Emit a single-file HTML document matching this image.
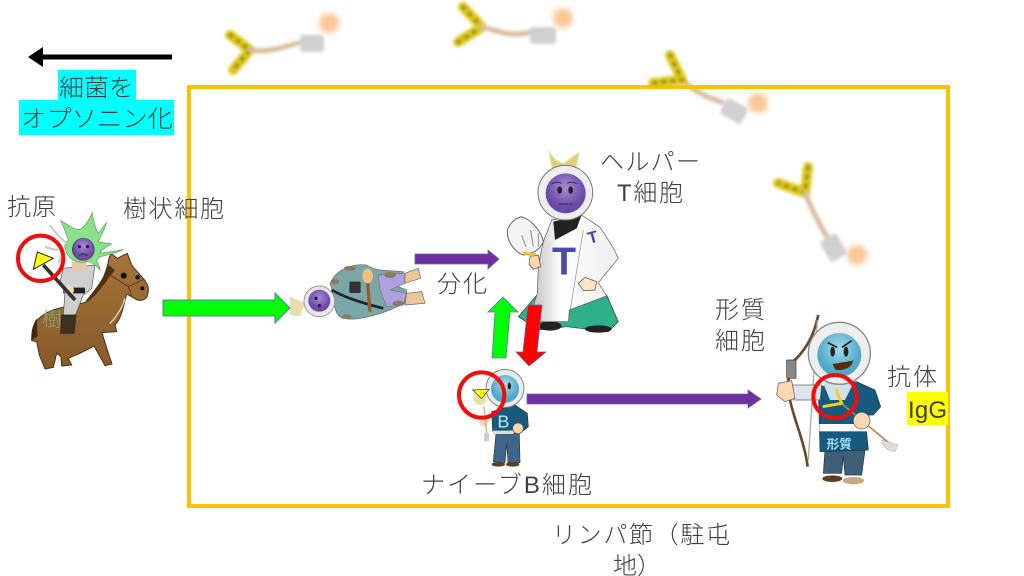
<!DOCTYPE html>
<html lang="ja"><head><meta charset="utf-8">
<style>
html,body{margin:0;padding:0;background:#fff;width:1024px;height:576px;overflow:hidden}
svg{display:block}
text{font-family:"Liberation Sans","Noto Sans CJK JP",sans-serif;font-size:24px;fill:#404040;font-weight:300}
</style></head><body>
<svg width="1024" height="576" viewBox="0 0 1024 576" xmlns="http://www.w3.org/2000/svg">
<defs>
<filter id="b" x="-20%" y="-20%" width="140%" height="140%"><feGaussianBlur stdDeviation="1.6"/></filter>
<filter id="b2" x="-40%" y="-40%" width="180%" height="180%"><feGaussianBlur stdDeviation="2"/></filter>
<filter id="s" x="-10%" y="-10%" width="120%" height="120%"><feGaussianBlur stdDeviation="0.7"/></filter>
<linearGradient id="coat" x1="0" x2="1"><stop offset="0" stop-color="#bdbdbd"/><stop offset=".35" stop-color="#fff"/><stop offset="1" stop-color="#eee"/></linearGradient>
<radialGradient id="pf" cx=".5" cy=".35"><stop offset="0" stop-color="#a98ad8"/><stop offset="1" stop-color="#6a48a8"/></radialGradient>
<radialGradient id="bf" cx=".5" cy=".35"><stop offset="0" stop-color="#a8dcec"/><stop offset="1" stop-color="#4fa8c8"/></radialGradient>
<linearGradient id="hb" x1="0" x2="0" y1="0" y2="1"><stop offset="0" stop-color="#a5743a"/><stop offset="1" stop-color="#86592a"/></linearGradient>
</defs>
<rect width="1024" height="576" fill="#fff"/>

<!-- antibodies -->
<g filter="url(#b)" fill="none" stroke-linecap="round" stroke-linejoin="round">
<g><path d="M230 35L250 50L233 70" stroke="#dcc81c" stroke-width="10"/><path d="M230 35L250 50L233 70" stroke="#7a6a10" stroke-width="3" stroke-dasharray="2 7"/><path d="M250 50C265 52 275 50 298 43" stroke="#d8bc9c" stroke-width="5"/><rect x="300" y="35" width="24" height="17" rx="3" fill="#d0d0d0" stroke="none"/><circle cx="329" cy="23" r="10" fill="#fcc898" stroke="none" filter="url(#b2)"/></g>
<g><path d="M463 7L482 27L458 42" stroke="#dcc81c" stroke-width="10"/><path d="M463 7L482 27L458 42" stroke="#7a6a10" stroke-width="3" stroke-dasharray="2 7"/><path d="M482 27C495 30 512 38 530 32" stroke="#d8bc9c" stroke-width="5"/><rect x="530" y="27" width="26" height="17" rx="3" fill="#d0d0d0" stroke="none"/><circle cx="563" cy="18" r="10" fill="#fcc898" stroke="none" filter="url(#b2)"/></g>
<g><path d="M808 167L805 193L778 183" stroke="#dcc81c" stroke-width="10"/><path d="M808 167L805 193L778 183" stroke="#7a6a10" stroke-width="3" stroke-dasharray="2 7"/><path d="M805 193C812 210 818 222 827 237" stroke="#d8bc9c" stroke-width="5"/><rect x="824" y="236" width="19" height="24" rx="3" fill="#d0d0d0" stroke="none" transform="rotate(-30 833 248)"/><circle cx="857" cy="255" r="10" fill="#fcc898" stroke="none" filter="url(#b2)"/></g>
<g><path d="M682 80C695 92 708 98 722 102" stroke="#d8bc9c" stroke-width="5"/><rect x="722" y="102" width="24" height="18" rx="3" fill="#d0d0d0" stroke="none" transform="rotate(30 734 111)"/><circle cx="758" cy="103" r="10" fill="#fcc898" stroke="none" filter="url(#b2)"/></g>
</g>

<!-- lymph node box -->
<rect x="189" y="87" width="759" height="419" fill="none" stroke="#ffc000" stroke-width="4"/>

<g filter="url(#b)" fill="none" stroke-linecap="round" stroke-linejoin="round">
<path d="M670 55L682 80L653 83" stroke="#dcc81c" stroke-width="10"/><path d="M670 55L682 80L653 83" stroke="#7a6a10" stroke-width="3" stroke-dasharray="2 7"/>
</g>

<!-- black arrow -->
<rect x="42" y="54.500" width="130" height="5" fill="#000"/>
<path d="M28 57L43 47V67Z" fill="#000"/>

<!-- cyan label -->
<rect x="58" y="70" width="78" height="31" fill="#00ffff"/>
<rect x="19" y="100" width="155" height="35" fill="#00ffff"/>
<text x="59" y="96" textLength="75" lengthAdjust="spacingAndGlyphs">細菌を</text>
<text x="21" y="127" textLength="152" lengthAdjust="spacingAndGlyphs">オプソニン化</text>

<!-- rider -->
<g transform="translate(0,190) scale(.33333)" filter="url(#s)">
 <path d="M112 390C150 348 220 350 262 335C295 305 320 250 328 200L335 192L352 205L382 190L395 225C420 258 447 275 445 302C445 328 425 338 405 326L380 312C372 342 365 385 345 405L350 425L306 428L325 490L336 522L315 527L282 468L240 490L205 505L215 525L185 528L183 500L170 490L160 532L135 537L118 495L110 455L95 452C95 430 100 405 112 390Z" fill="url(#hb)" stroke="#4a3216" stroke-width="3" stroke-linejoin="round"/>
 <path d="M255 335C285 300 315 260 325 225L345 240C320 270 300 305 270 330Z" fill="#4f3212"/>
 <path d="M110 385C98 405 92 425 95 450L112 440Z" fill="#3e2a10"/>
 <circle cx="371" cy="257" r="9" fill="#111"/><circle cx="413" cy="262" r="7" fill="#111"/><circle cx="427" cy="295" r="6" fill="#111"/>
 <path d="M330 255L385 290L432 268M385 290L395 320" fill="none" stroke="#6e2e1a" stroke-width="3"/>
 <path d="M375 325C370 350 345 385 330 400" fill="none" stroke="#e8d6c0" stroke-width="4"/>
 <text x="126" y="408" style="font-size:60px;fill:#7fb070">樹</text>
 <path d="M190 235L285 225L275 295L250 315L225 378L190 378L195 305L180 275Z" fill="#cfcfcf" stroke="#555" stroke-width="2" stroke-linejoin="round"/>
 <path d="M185 375H228L222 430H182Z" fill="#3a3026" stroke="#222" stroke-width="2"/>
 <path d="M190 293H255V310H190Z" fill="#222"/>
 <circle cx="207" cy="300" r="15" fill="#f5d6b0"/>
 <path d="M130 225L225 330" stroke="#333" stroke-width="11"/>
 <rect x="215" y="215" width="45" height="25" fill="#e8c8a8"/>
 <path d="M205 150C195 125 190 105 182 92C200 100 220 120 238 118C250 115 265 95 277 68C280 90 285 115 295 130C310 110 318 100 320 97C315 115 305 135 295 155C310 160 325 158 335 162C320 170 305 178 300 190C320 185 350 185 370 178C350 190 320 195 300 200L288 212C295 220 300 230 300 240C290 228 275 215 260 215C240 220 215 215 200 190C190 170 195 160 205 150Z" fill="#8be08b" stroke="#5a9a5a" stroke-width="2"/>
 <circle cx="250" cy="178" r="33" fill="url(#pf)" stroke="#444" stroke-width="2"/>
 <circle cx="238" cy="170" r="5" fill="#222"/><circle cx="263" cy="170" r="5" fill="#222"/>
 <path d="M238 197Q250 186 263 197" fill="none" stroke="#333" stroke-width="3"/>
 <path d="M200 160C175 140 155 115 150 105M175 180C155 178 140 172 135 170M190 190L175 220" fill="none" stroke="#ccc" stroke-width="7"/>
 <circle cx="122" cy="205" r="68" fill="none" stroke="#f01010" stroke-width="12"/>
 <path d="M112 186L160 205L100 238Z" fill="#ffff00" stroke="#222" stroke-width="3"/>
</g>

<!-- naive helper lying -->
<g transform="translate(290,140) scale(.33333)" filter="url(#s)">
 <path d="M0 470L45 490L30 530L0 525Z" fill="#e0d088" opacity=".7"/>
 <path d="M120 430C140 385 190 370 230 375C260 395 290 390 340 395L345 420L300 430L350 450L345 490L300 510C260 525 200 545 160 535C130 530 130 470 125 445Z" fill="#7aa8a8" stroke="#666" stroke-width="2"/>
 <path d="M265 405L345 400L345 430L300 450L350 460L340 495L290 500L270 450Z" fill="#b0a0e0" stroke="#777" stroke-width="2"/>
 <path d="M345 400L385 385L392 415L345 430ZM350 460L395 455L405 490L345 495Z" fill="#e8c898" stroke="#666" stroke-width="2"/>
 <path d="M125 450C170 475 220 490 280 505" fill="none" stroke="#222" stroke-width="8"/>
 <path d="M230 395L240 515" stroke="#9a5a2a" stroke-width="10"/>
 <ellipse cx="233" cy="408" rx="16" ry="22" fill="#f0c080"/>
 <rect x="178" y="425" width="34" height="34" fill="#333" rx="4"/>
 <g fill="#8b7a60"><ellipse cx="180" cy="385" rx="18" ry="7"/><ellipse cx="135" cy="425" rx="12" ry="8"/><ellipse cx="300" cy="405" rx="18" ry="9"/><ellipse cx="325" cy="490" rx="18" ry="8"/><ellipse cx="170" cy="530" rx="15" ry="7"/></g>
 <circle cx="88" cy="484" r="46" fill="#e8e8e8" stroke="#999" stroke-width="3"/>
 <circle cx="88" cy="482" r="33" fill="url(#pf)"/>
 <circle cx="78" cy="475" r="5" fill="#222"/><circle cx="88" cy="497" r="5" fill="#222"/>
</g>

<!-- helper T -->
<g transform="translate(290,140) scale(.33333)" filter="url(#s)">
 <path d="M775 30C785 50 800 65 820 70L868 35C865 60 858 85 850 105L790 105Z" fill="#d8c868" opacity=".85" filter="url(#b)"/>
 <path d="M745 460L685 530L745 570L830 560L955 575L985 545L950 465Z" fill="#2fb08a" stroke="#333" stroke-width="2"/>
 <ellipse cx="780" cy="558" rx="35" ry="14" fill="#222"/><ellipse cx="925" cy="567" rx="40" ry="11" fill="#222"/>
 <path d="M785 240L760 305L745 375L742 460L722 522L745 545L835 545L838 510L950 468L925 428L985 355C965 310 945 285 930 262L875 225Z" fill="url(#coat)" stroke="#555" stroke-width="2" stroke-linejoin="round"/>
 <path d="M790 245L875 225L860 265L795 300Z" fill="#222"/>
 <path d="M880 270L835 545" stroke="#888" stroke-width="2"/>
 <text x="786" y="404" style="font-size:118px;fill:#4848b0;font-weight:700" textLength="72" lengthAdjust="spacingAndGlyphs">T</text>
 <text x="0" y="0" transform="translate(898,312) rotate(-15)" style="font-size:50px;fill:#4848b0;font-weight:700">T</text>
 <path d="M885 412L920 425L915 450L880 452L865 430Z" fill="#fbe4c8" stroke="#444" stroke-width="2"/>
 <path d="M720 350L745 345L752 380L730 388L717 372Z" fill="#fbd8b0" stroke="#444" stroke-width="2"/>
 <path d="M695 230C725 240 755 275 760 305C750 330 730 340 700 345C670 335 650 300 652 270C660 250 675 235 695 230Z" fill="#f4f4f4" stroke="#666" stroke-width="3"/>
 <path d="M695 285L708 320M722 270L730 320M745 280L745 320" stroke="#888" stroke-width="3"/>
 <path d="M695 335L740 340L730 350L705 345Z" fill="#e8c030"/>
 <circle cx="826" cy="158" r="82" fill="#eee" stroke="#777" stroke-width="3"/>
 <circle cx="827" cy="160" r="60" fill="url(#pf)"/>
 <ellipse cx="809" cy="150" rx="7" ry="11" fill="#222"/><ellipse cx="842" cy="150" rx="7" ry="11" fill="#222"/>
 <path d="M785 132Q800 122 815 130M832 130Q848 122 860 132M805 192H848" fill="none" stroke="#333" stroke-width="3"/>
</g>

<!-- B cell -->
<g transform="translate(440,290) scale(.33333)" filter="url(#s)">
 <path d="M160 515L168 430H238L240 518L204 518L200 460L195 518Z" fill="#3c6688" stroke="#333" stroke-width="2"/>
 <ellipse cx="175" cy="523" rx="20" ry="7" fill="#5a4024"/><ellipse cx="218" cy="523" rx="20" ry="7" fill="#5a4024"/>
 <path d="M155 365L225 345L262 370L265 410L240 430L220 420L158 425Z" fill="#175a7e" stroke="#333" stroke-width="2"/>
 <rect x="158" y="422" width="62" height="10" fill="#ddd"/>
 <text x="172" y="412" style="font-size:54px;fill:#b8e8f4;font-weight:400">B</text>
 <circle cx="234" cy="415" r="16" fill="#fbd8b0" stroke="#555" stroke-width="2"/>
 <circle cx="132" cy="395" r="14" fill="#fbd8b0"/>
 <path d="M132 350L140 430" stroke="#d8b892" stroke-width="5"/><rect x="132" y="430" width="15" height="24" fill="#ccc"/>
 <circle cx="195" cy="295" r="57" fill="#eaeaea" stroke="#888" stroke-width="3"/>
 <circle cx="195" cy="297" r="42" fill="url(#bf)"/>
 <ellipse cx="208" cy="288" rx="5" ry="10" fill="#222"/>
 <circle cx="120" cy="325" r="20" fill="#e0cc70" opacity=".6" filter="url(#b)"/>
 <circle cx="125" cy="315" r="68" fill="none" stroke="#f01010" stroke-width="12"/>
 <path d="M98 300L147 298L125 326Z" fill="#ffff00" stroke="#333" stroke-width="2"/>
</g>

<!-- plasma cell -->
<g transform="translate(760,300) scale(.33333)" filter="url(#s)">
 <path d="M175 45C165 90 150 135 105 180L85 240C80 320 130 400 143 500" fill="none" stroke="#6a4a2c" stroke-width="8"/>
 <path d="M172 60L145 480" stroke="#aaa" stroke-width="4"/>
 <rect x="80" y="180" width="28" height="55" fill="#888" stroke="#333" stroke-width="2" rx="3"/>
 <path d="M190 520L195 450H315L305 525L255 525L250 470L245 520Z" fill="#3c6078" stroke="#333" stroke-width="2"/>
 <ellipse cx="217" cy="536" rx="30" ry="10" fill="#5a4024"/><ellipse cx="280" cy="542" rx="32" ry="11" fill="#c8a880"/>
 <path d="M175 260L290 245L345 270L362 320L340 345L315 345L325 450L180 455Z" fill="#145a80" stroke="#333" stroke-width="2"/>
 <rect x="178" y="372" width="145" height="22" fill="#fff"/>
 <text x="200" y="445" style="font-size:38px;fill:#9fe0f0;font-weight:700">形質</text>
 <path d="M95 255L185 255L180 300L100 300Z" fill="#dde4ea" stroke="#666" stroke-width="2"/>
 <path d="M55 250L95 242L105 295L75 305L50 285Z" fill="#fbd8b0" stroke="#555" stroke-width="2"/>
 <path d="M190 250L230 230L280 250L255 300L210 300Z" fill="#cfe0e6"/>
 <path d="M250 315L400 440" stroke="#b08850" stroke-width="5"/>
 <path d="M365 420L415 435L405 455L385 450L370 440Z" fill="#ddd" stroke="#888"/>
 <circle cx="305" cy="362" r="25" fill="#fbd8b0" stroke="#555" stroke-width="2"/>
 <circle cx="238" cy="160" r="93" fill="#eee" stroke="#888" stroke-width="4"/>
 <circle cx="238" cy="165" r="66" fill="url(#bf)"/>
 <ellipse cx="218" cy="155" rx="7" ry="15" fill="#222"/><ellipse cx="258" cy="155" rx="7" ry="15" fill="#222"/>
 <path d="M203 128L232 142M275 122L246 142" stroke="#222" stroke-width="5"/>
 <path d="M218 192L280 182C275 205 245 215 225 208Z" fill="#5a2a10"/>
 <path d="M228 268L245 310L188 320" fill="none" stroke="#f0d020" stroke-width="9"/>
 <circle cx="225" cy="290" r="65" fill="none" stroke="#f01010" stroke-width="12"/>
</g>

<!-- arrows -->
<path d="M163 300H275V293L290 308L275 323V316H163Z" fill="#00ff00" stroke="#5a7cb0" stroke-width="1"/>
<path d="M415 254H488V250L499 259L488 269V264H415Z" fill="#7030a0" stroke="#5a6ca0" stroke-width=".8"/>
<path d="M527 394H748V390L761 399L748 408V404H527Z" fill="#7030a0" stroke="#5a6ca0" stroke-width=".8"/>
<path d="M492 358L495 312H488L503 297L518 312H510L506 358Z" fill="#00ff00" stroke="#5a7cb0" stroke-width=".8"/>
<path d="M528 305H542L537 352H546L529 366L516 352H523Z" fill="#ff0000" stroke="#5a6ca0" stroke-width=".8"/>

<!-- labels -->
<text x="7" y="215" textLength="49">抗原</text>
<text x="123" y="217" textLength="101">樹状細胞</text>
<text x="600" y="170" textLength="100">ヘルパー</text>
<text x="617" y="201" textLength="66">T細胞</text>
<text x="437" y="292" textLength="50">分化</text>
<text x="715" y="318" textLength="50">形質</text>
<text x="715" y="349" textLength="50">細胞</text>
<text x="887" y="385" textLength="50">抗体</text>
<rect x="907" y="392" width="41" height="33" fill="#ffff00"/>
<text x="908" y="418" textLength="39">IgG</text>
<text x="421" y="493" textLength="171">ナイーブB細胞</text>
<text x="552" y="543" textLength="178">リンパ節（駐屯</text>
<text x="613" y="574" textLength="48">地）</text>
</svg>
</body></html>
